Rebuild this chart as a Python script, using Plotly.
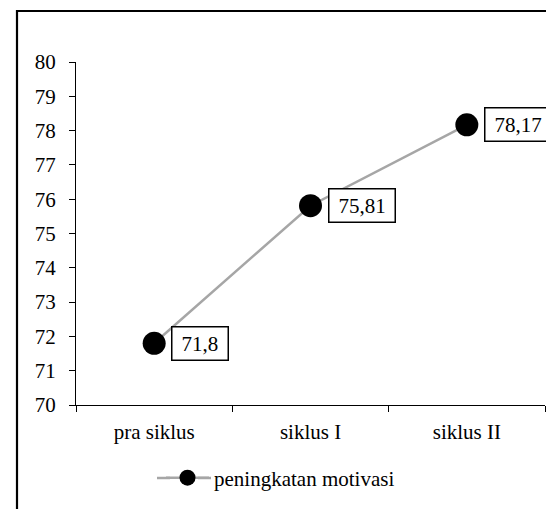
import plotly.graph_objects as go

categories = ["pra siklus", "siklus I", "siklus II"]
values = [71.8, 75.81, 78.17]
value_labels = ["71,8", "75,81", "78,17"]
series_name = "peningkatan motivasi"

W, H = 546, 509
L, R, T, B = 76, 1, 62, 104
pw, ph = W - L - R, H - T - B

font = dict(family="Liberation Serif, Times New Roman, serif", size=21, color="black")
LINE_COLOR = "#a6a6a6"

def px_x(x):
    return (x - L) / pw

def px_y(y):
    return 1 - (y - T) / ph

fig = go.Figure()
fig.add_trace(go.Scatter(
    x=categories, y=values, mode="lines+markers", name=series_name,
    line=dict(color=LINE_COLOR, width=2.5),
    marker=dict(color="black", size=23),
))

def text_w(t):
    return sum(5.25 if ch == "," else 10.5 for ch in t)

for c, v, t in zip(categories, values, value_labels):
    fig.add_annotation(x=c, y=v, text=t, showarrow=False, xanchor="left", yanchor="middle",
                       xshift=17, font=font, bordercolor="black", borderwidth=1.5,
                       borderpad=1, width=text_w(t) + 16, height=30, bgcolor="white")

# chart frame
fig.add_shape(type="path", xref="paper", yref="paper",
              path=f"M {px_x(17)} {px_y(540)} L {px_x(17)} {px_y(11)} L {px_x(580)} {px_y(11)}",
              line=dict(color="black", width=2.2))

# longer legend line sample (the legend's own sample is 30px)
leg_mx, leg_y = 184, 478
for a, b in [(157, leg_mx - 14), (leg_mx + 14, 211)]:
    fig.add_shape(type="line", xref="paper", yref="paper",
                  x0=px_x(a), x1=px_x(b), y0=px_y(leg_y), y1=px_y(leg_y),
                  line=dict(color=LINE_COLOR, width=2.5))

fig.update_layout(
    width=W, height=H, margin=dict(l=L, r=R, t=T, b=B),
    paper_bgcolor="white", plot_bgcolor="white",
    font=font, showlegend=True,
    legend=dict(orientation="h", x=px_x(161), y=px_y(leg_y), xanchor="left", yanchor="middle",
                font=font, bgcolor="rgba(0,0,0,0)", itemwidth=43),
)
fig.update_xaxes(type="category", range=[-0.5, 2.5], tickson="boundaries", ticks="outside",
                 ticklen=6, tickcolor="black", showline=True, linecolor="black", linewidth=1,
                 showgrid=False, zeroline=False, tickfont=font, ticklabelstandoff=8)
fig.update_yaxes(range=[70, 80], dtick=1, ticks="outside", ticklen=6, tickcolor="black",
                 showline=True, linecolor="black", linewidth=1, showgrid=False, zeroline=False,
                 tickfont=font, ticklabelstandoff=9)

fig.write_html(
    "out.html",
    config={"displayModeBar": False},
    post_script="document.body.style.margin='0';document.body.style.overflow='hidden';"
                "document.documentElement.style.overflow='hidden';",
)
